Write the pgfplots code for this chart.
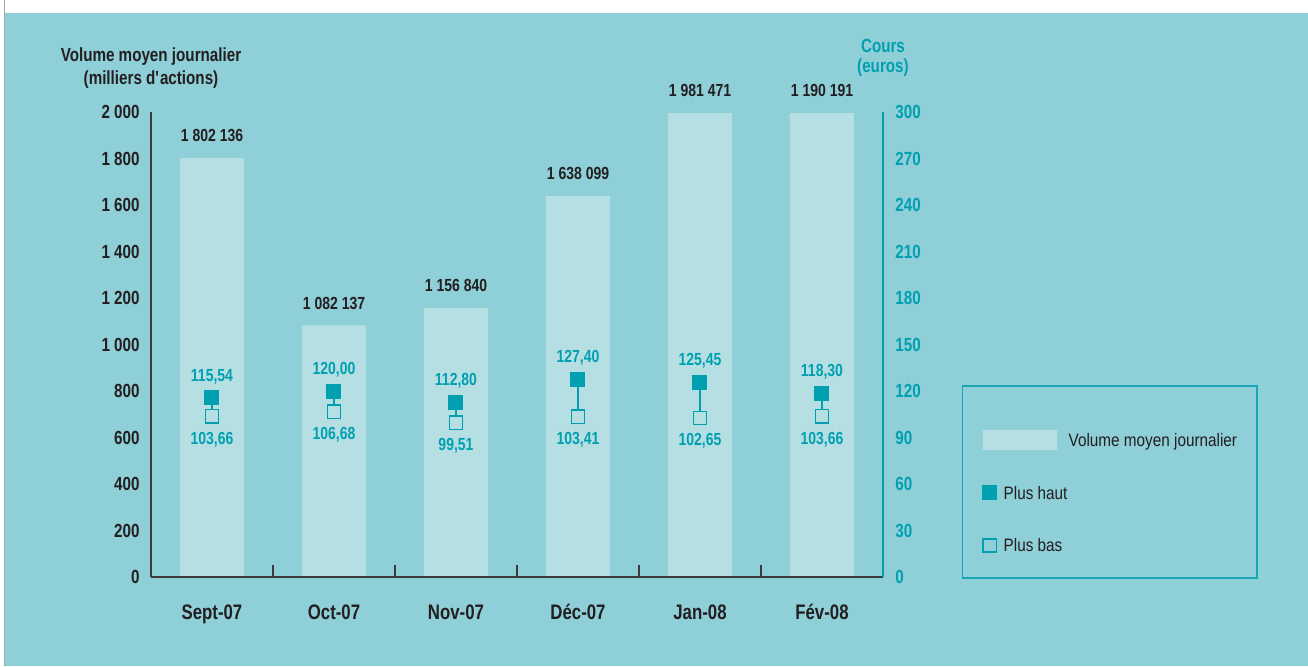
\documentclass[border=0pt]{standalone}
\usepackage{fontspec}
\setmainfont{Liberation Sans}[FakeStretch=0.85, BoldFeatures={FakeStretch=0.8}]
\usepackage{pgfplots}
\pgfplotsset{compat=1.18}
\usepackage{pgfplotstable}

\definecolor{bgc}{RGB}{142,207,216}
\definecolor{barc}{RGB}{182,223,228}
\definecolor{tealc}{RGB}{0,160,176}
\definecolor{darkc}{RGB}{35,31,32}
\definecolor{axc}{RGB}{60,60,60}
\definecolor{legc}{RGB}{26,165,181}

\pgfplotsset{
  legmarkA/.style={legend image code/.code={\draw[##1] plot coordinates {(3.5pt,0pt)};}},
  legmarkB/.style={legend image code/.code={\draw[##1, mark options={fill=bgc, draw=tealc, line width=0.75pt}] plot coordinates {(3.5pt,0pt)};}},
}

\pgfplotstableread[col sep=comma]{
x,vol,lab
0,1802,1 802 136
1,1082,1 082 137
2,1157,1 156 840
3,1638,1 638 099
4,1995,1 981 471
5,1995,1 190 191
}\voldata

\pgfplotstableread{
x y lab
0 115.54 115,54
1 120.00 120,00
2 112.80 112,80
3 127.40 127,40
4 125.45 125,45
5 118.30 118,30
}\hautdata

\pgfplotstableread{
x y lab
0 103.66 103,66
1 106.68 106,68
2 99.51 99,51
3 103.41 103,41
4 102.65 102,65
5 103.66 103,66
}\basdata

\begin{document}
\begin{tikzpicture}
\useasboundingbox (-75.5pt,-44.5pt) rectangle (578.5pt,288.5pt);
\fill[white] (-75.5pt,-44.5pt) rectangle (578.5pt,288.5pt);
\fill[bgc] (-73pt,-44.5pt) rectangle (578.5pt,282pt);
\draw[gray!70, line width=0.5pt] (-73pt,-44.5pt) -- (-73pt,288.5pt);

\begin{axis}[
  at={(0,0)}, anchor=south west,
  scale only axis, width=366pt, height=232.5pt,
  xmin=-0.5, xmax=5.5, ymin=0, ymax=2000,
  axis on top,
  axis x line*=bottom, axis y line*=left,
  axis line style={axc, line width=0.75pt},
  xtick={0,1,2,3,4,5},
  xticklabels={Sept-07,Oct-07,Nov-07,Déc-07,Jan-08,Fév-08},
  minor xtick={-0.5,0.5,1.5,2.5,3.5,4.5},
  ytick={0,200,400,600,800,1000,1200,1400,1600,1800,2000},
  yticklabels={0,200,400,600,800,1 000,1 200,1 400,1 600,1 800,2 000},
  major tick length=0pt, minor tick length=6pt, tick align=inside,
  tick style={axc, line width=0.75pt},
  xticklabel style={font=\bfseries\fontsize{10.5}{12}\selectfont, text=darkc, anchor=north, inner sep=0pt, yshift=-13.5pt},
  yticklabel style={font=\bfseries\fontsize{9.5}{10}\selectfont, text=darkc, anchor=east, inner sep=0pt, xshift=-5.5pt},
  clip=false,
]
\addplot[ybar, bar width=32pt, fill=barc, draw=none,
  point meta=explicit symbolic, nodes near coords,
  nodes near coords style={font=\bfseries\fontsize{8.75}{10}\selectfont, text=darkc, anchor=south, inner sep=0pt, yshift=7.8pt}]
  table[x=x, y=vol, meta=lab] {\voldata};
\node[anchor=south, align=center, font=\bfseries\fontsize{9.5}{11.5}\selectfont, text=darkc, yshift=8.3pt]
  at (rel axis cs:0,1) {Volume moyen journalier\\(milliers d\textquotesingle actions)};
\end{axis}

\begin{axis}[
  at={(0,0)}, anchor=south west,
  scale only axis, width=366pt, height=232.5pt,
  xmin=-0.5, xmax=5.5, ymin=0, ymax=300,
  axis x line=none, axis y line*=right,
  axis line style={tealc, line width=0.75pt},
  ytick={0,30,60,90,120,150,180,210,240,270,300},
  yticklabels={0,30,60,90,120,150,180,210,240,270,300},
  major tick length=0pt,
  yticklabel style={font=\bfseries\fontsize{9.5}{10}\selectfont, text=tealc, anchor=west, inner sep=0pt, xshift=6pt},
  unbounded coords=jump,
  clip=false,
  legend cell align=left,
  legend style={at={(1.1079,0.4129)}, anchor=north west, draw=legc, line width=0.75pt, fill=none,
    inner xsep=10pt, inner ysep=13pt, row sep=19.5pt, column sep=3.5pt,
    font=\fontsize{9}{10}\selectfont, text=darkc,
    nodes={inner sep=0pt, text height=6.5pt, text depth=0pt}},
]
\addlegendimage{legend image code/.code={\fill[barc, draw=none, overlay] (0pt,-5pt) rectangle (37pt,5pt); \path[draw=none, fill=none] (0pt,-3.5pt) rectangle (7pt,14pt);}}
\addlegendentry{\hspace*{32.5pt}Volume moyen journalier}
\addplot[tealc, line width=0.6pt, forget plot] coordinates {
  (0,103.66) (0,115.54) (0.5,nan)
  (1,106.68) (1,120.00) (1.5,nan)
  (2,99.51) (2,112.80) (2.5,nan)
  (3,103.41) (3,127.40) (3.5,nan)
  (4,102.65) (4,125.45) (4.5,nan)
  (5,103.66) (5,118.30)
};
\addplot[only marks, mark=square*, mark size=3.5pt, mark options={fill=tealc, draw=tealc, line width=0pt},
  legmarkA,
  point meta=explicit symbolic, nodes near coords,
  nodes near coords style={font=\bfseries\fontsize{8.75}{10}\selectfont, text=tealc, anchor=south, inner sep=0pt, yshift=7.1pt}]
  table[x=x, y=y, meta=lab] {\hautdata};
\addlegendentry{Plus haut}
\addplot[only marks, mark=square*, mark size=3.3pt, mark options={fill=barc, draw=tealc, line width=0.75pt},
  legmarkB,
  point meta=explicit symbolic, nodes near coords,
  nodes near coords style={font=\bfseries\fontsize{8.75}{10}\selectfont, text=tealc, anchor=north, inner sep=0pt, yshift=-7.4pt}]
  table[x=x, y=y, meta=lab] {\basdata};
\addlegendentry{Plus bas}
\node[anchor=south, align=center, font=\bfseries\fontsize{9.5}{10}\selectfont, text=tealc, yshift=14pt]
  at (rel axis cs:1,1) {Cours\\(euros)};
\end{axis}
\end{tikzpicture}
\end{document}
